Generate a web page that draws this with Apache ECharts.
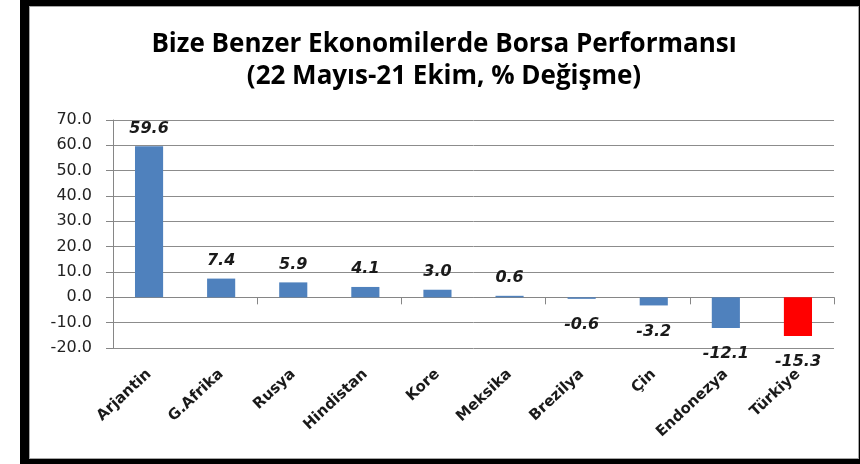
<!DOCTYPE html>
<html>
<head>
<meta charset="utf-8">
<script src="https://cdn.jsdelivr.net/npm/echarts@6/dist/echarts.min.js"></script>
<style>
  body { margin: 0; background: #fff; }
  #shadow { position: absolute; left: 20px; top: 0; width: 840px; height: 464px; background: #000; }
  #box { position: absolute; left: 29px; top: 6px; width: 830px; height: 453px; background: #fff;
         box-sizing: border-box; border: 1px solid #a6a6a6; }
  #borsa { position: absolute; left: 29px; top: 6px; width: 830px; height: 453px; }
</style>
</head>
<body>
<div id="shadow"></div>
<div id="box"></div>
<div id="borsa"></div>
<script>
  let countries = ["Arjantin", "G.Afrika", "Rusya", "Hindistan", "Kore", "Meksika", "Brezilya", "Çin", "Endonezya", "Türkiye"];
  let changes = [59.6, 7.4, 5.9, 4.1, 3.0, 0.6, -0.6, -3.2, -12.1, -15.3];
  let highlight = "Türkiye";

  let chart = echarts.init(document.getElementById('borsa'));

  let barData = changes.map(function (v, i) {
    return {
      value: v,
      itemStyle: { color: countries[i] === highlight ? '#ff0000' : '#4f81bd' },
      label: v < 0 ? { position: 'bottom', distance: 18 } : { position: 'top', distance: 10 }
    };
  });

  chart.setOption({
    animation: false,
    title: {
      left: 'center',
      top: 23,
      padding: 0,
      text: 'Bize Benzer Ekonomilerde Borsa Performansı\n(22 Mayıs-21 Ekim, % Değişme)',
      textStyle: {
        fontFamily: 'Open Sans',
        fontWeight: 'bold',
        fontSize: 26,
        lineHeight: 32,
        color: '#000'
      }
    },
    grid: { left: 84, right: 25, top: 114, bottom: 111 },
    xAxis: [{
      type: 'category',
      data: countries,
      axisLine: { onZero: true, lineStyle: { color: '#868686', width: 1 } },
      axisTick: { show: true, length: 7, lineStyle: { color: '#868686' } },
      axisLabel: { show: false }
    }, {
      type: 'category',
      data: countries,
      position: 'bottom',
      axisLine: { show: false, onZero: false },
      axisTick: { show: false },
      axisLabel: {
        rotate: 43,
        margin: 24,
        interval: 0,
        fontFamily: 'DejaVu Sans',
        fontWeight: 'bold',
        fontSize: 15,
        color: '#1a1a1a'
      }
    }],
    yAxis: {
      type: 'value',
      min: -20,
      max: 70,
      interval: 10,
      axisLine: { show: true, lineStyle: { color: '#868686' } },
      axisTick: { show: true, length: 7, lineStyle: { color: '#868686' } },
      splitLine: { lineStyle: { color: '#8c8c8c', width: 1 } },
      axisLabel: {
        margin: 21,
        fontFamily: 'DejaVu Sans',
        fontSize: 16,
        color: '#222',
        formatter: function (v) { return v.toFixed(1); }
      }
    },
    series: [{
      type: 'bar',
      xAxisIndex: 0,
      data: barData,
      barWidth: '39%',
      label: {
        show: true,
        fontFamily: 'DejaVu Sans',
        fontWeight: 'bold',
        fontStyle: 'italic',
        fontSize: 16,
        color: '#1a1a1a',
        formatter: function (p) { return p.value.toFixed(1); }
      }
    }]
  });
</script>
</body>
</html>
